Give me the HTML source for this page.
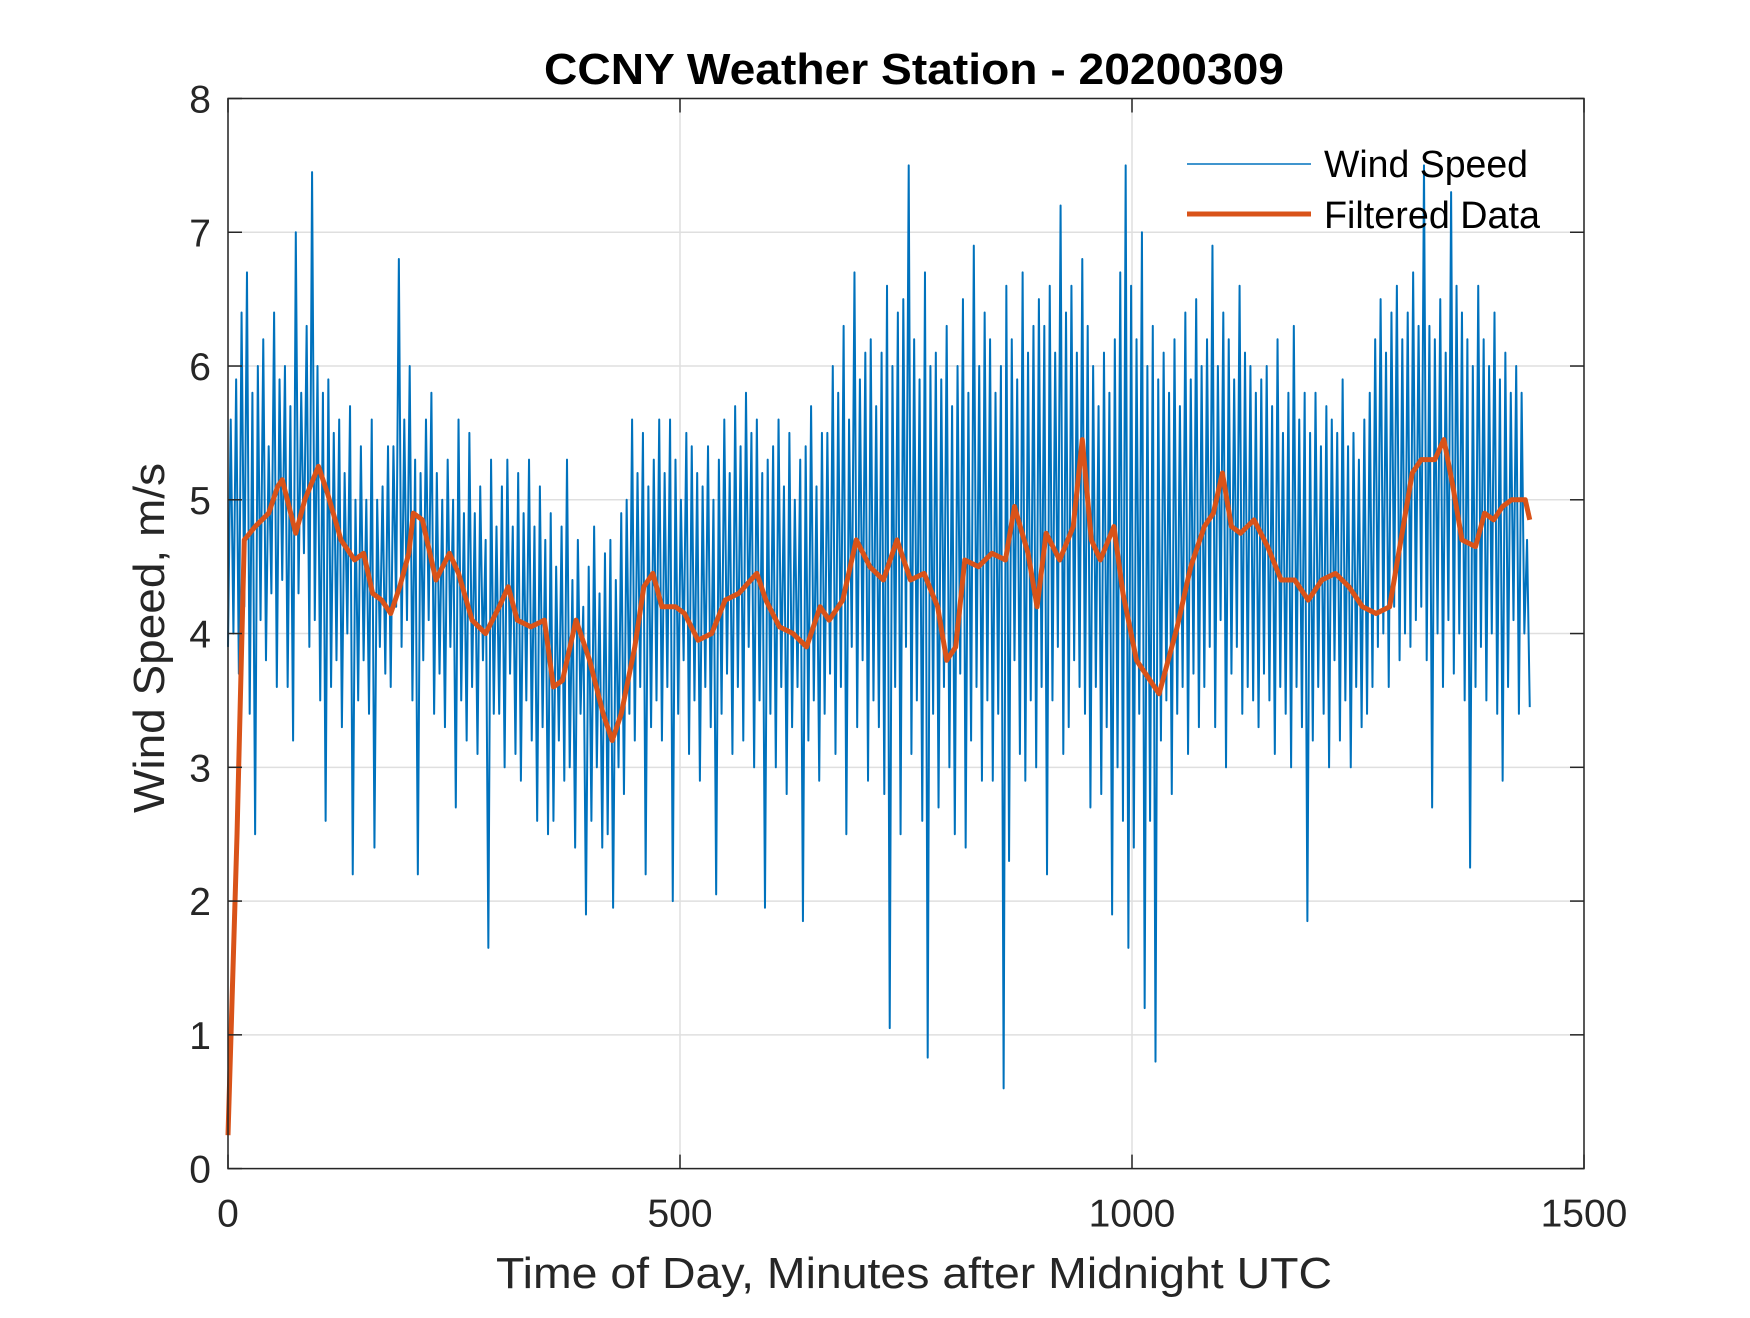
<!DOCTYPE html>
<html><head><meta charset="utf-8"><style>
html,body{margin:0;padding:0;background:#fff;}
svg text{font-family:"Liberation Sans",Arial,sans-serif;}
</style></head><body>
<svg id="chart" width="1750" height="1313" viewBox="0 0 1750 1313" xmlns="http://www.w3.org/2000/svg">
<rect width="1750" height="1313" fill="#fff"/>
<g id="grid"></g>
<g id="plot"></g>
<g id="axes"></g>
<text x="914" y="84" text-anchor="middle" font-size="44" font-weight="bold" fill="#000" textLength="740" lengthAdjust="spacingAndGlyphs">CCNY Weather Station - 20200309</text>
<text x="914" y="1288" text-anchor="middle" font-size="44" fill="#262626" textLength="836" lengthAdjust="spacingAndGlyphs">Time of Day, Minutes after Midnight UTC</text>
<text transform="translate(164,638) rotate(-90)" text-anchor="middle" font-size="44" fill="#262626" textLength="350" lengthAdjust="spacingAndGlyphs">Wind Speed, m/s</text>
<g>
<line x1="1187" y1="164" x2="1311" y2="164" stroke="#0072BD" stroke-width="1.5"/>
<text x="1324" y="177" font-size="38" fill="#000" textLength="204" lengthAdjust="spacingAndGlyphs">Wind Speed</text>
<line x1="1187" y1="214" x2="1311" y2="214" stroke="#D95319" stroke-width="5"/>
<text x="1324" y="228" font-size="38" fill="#000" textLength="216" lengthAdjust="spacingAndGlyphs">Filtered Data</text>
</g>
</svg>
<script>
const xTicks = [0, 500, 1000, 1500];
const yTicks = [0, 1, 2, 3, 4, 5, 6, 7, 8];
const rawStep = 3;
const rawValues = [
3.9,5.6,4.0,5.9,3.7,6.4,4.2,6.7,3.4,5.8,2.5,6.0,4.1,6.2,3.8,5.4,4.3,6.4,3.6,5.9,
4.4,6.0,3.6,5.7,3.2,7.0,4.3,5.8,4.6,6.3,3.9,7.45,4.1,6.0,3.5,5.8,2.6,5.9,3.6,5.5,
3.8,5.6,3.3,5.2,4.0,5.7,2.2,5.0,3.5,5.4,3.8,5.0,3.4,5.6,2.4,5.0,3.9,5.1,3.7,5.4,
3.6,5.4,4.2,6.8,3.9,5.6,4.1,6.0,3.5,5.3,2.2,5.2,3.8,5.6,4.1,5.8,3.4,5.2,3.7,5.0,
3.3,5.3,3.9,5.0,2.7,5.6,3.5,4.9,3.2,5.5,3.6,4.9,3.1,5.1,3.8,4.7,1.65,5.3,3.4,4.8,
3.4,5.1,3.0,5.3,3.7,4.8,3.1,5.2,2.9,4.9,3.5,5.3,3.2,4.8,2.6,5.1,3.3,4.7,2.5,4.9,
2.6,4.5,3.2,4.8,2.9,5.3,3.0,4.4,2.4,4.7,3.4,4.2,1.9,4.5,2.6,4.8,3.0,4.3,2.4,4.6,
2.5,4.7,1.95,4.4,3.0,4.9,2.8,5.0,3.4,5.6,3.2,5.2,3.6,5.5,2.2,5.1,3.3,5.3,3.5,5.6,
3.2,5.2,3.6,5.6,2.0,5.3,3.4,5.0,3.8,5.5,3.1,5.4,3.5,5.2,2.9,5.1,3.6,5.4,3.3,5.0,
2.05,5.3,3.4,5.6,3.7,5.2,3.1,5.7,3.6,5.4,3.2,5.8,3.9,5.5,3.0,5.6,3.5,5.2,1.95,5.3,
3.4,5.4,3.0,5.6,3.6,5.1,2.8,5.5,3.3,5.0,3.6,5.3,1.85,5.4,3.2,5.7,3.5,5.1,2.9,5.5,
3.4,5.5,3.7,6.0,3.1,5.8,3.6,6.3,2.5,5.6,3.9,6.7,3.3,5.9,3.8,6.1,2.9,6.2,3.5,5.7,
3.3,6.1,2.8,6.6,1.05,6.0,3.6,6.4,2.5,6.5,3.9,7.5,3.1,6.2,3.5,5.9,2.6,6.7,0.83,6.0,
3.4,6.1,2.7,5.9,3.6,6.3,3.0,5.7,2.5,6.0,3.7,6.5,2.4,5.8,3.2,6.9,3.6,6.0,2.9,6.4,
3.5,6.2,2.9,5.8,3.4,6.0,0.6,6.6,2.3,6.2,3.8,5.9,3.1,6.7,2.9,6.1,3.5,6.3,3.0,6.5,
3.6,6.3,2.2,6.6,3.5,6.1,3.9,7.2,3.1,6.4,3.3,6.6,3.8,6.1,3.6,6.8,3.4,6.3,2.7,6.0,
3.6,5.7,2.8,6.1,3.3,5.8,1.9,6.2,3.0,6.7,2.6,7.5,1.65,6.6,2.4,6.2,3.4,7.0,1.2,6.0,
2.6,6.3,0.8,5.9,3.2,6.1,3.5,5.8,2.8,6.2,3.4,5.7,3.6,6.4,3.1,5.9,3.7,6.5,3.3,6.0,
3.6,6.2,3.9,6.9,3.3,6.0,4.1,6.4,3.0,6.2,3.7,5.9,3.9,6.6,3.4,6.1,3.6,6.0,3.5,5.8,
3.3,5.9,3.7,6.0,3.5,5.7,3.1,6.2,3.6,5.5,3.4,5.8,3.0,6.3,3.6,5.6,3.3,5.8,1.85,5.5,
3.2,5.8,3.6,5.4,3.4,5.7,3.0,5.6,3.8,5.5,3.2,5.9,3.5,5.4,3.0,5.5,3.6,5.3,3.3,5.6,
3.4,5.8,3.6,6.2,3.9,6.5,4.0,6.1,3.6,6.4,4.2,6.6,3.8,6.2,4.0,6.4,3.9,6.7,4.1,6.3,
4.2,7.5,3.8,6.3,2.7,6.2,4.0,6.5,3.6,6.1,4.1,7.3,3.7,6.6,4.0,6.4,3.5,6.2,2.25,6.0,
3.6,6.6,3.9,6.2,3.5,6.0,4.0,6.4,3.4,5.9,2.9,6.1,3.6,5.8,4.1,6.0,3.4,5.8,4.0,4.7,
3.45
];
const filtX = [0,10,18,30,45,55,60,75,85,100,110,125,140,150,160,170,180,190,200,205,215,230,245,255,270,285,300,310,320,335,350,360,370,385,400,415,425,435,450,460,470,480,495,505,520,535,550,565,585,595,610,625,640,655,665,680,695,710,725,740,755,770,785,795,805,815,830,845,860,870,885,895,905,920,935,945,955,965,980,990,1005,1015,1030,1040,1050,1065,1080,1090,1100,1110,1120,1135,1150,1165,1180,1195,1210,1225,1240,1255,1270,1285,1300,1310,1320,1335,1345,1355,1365,1380,1390,1400,1410,1420,1435,1440];
const filtY = [0.25,2.5,4.7,4.8,4.9,5.1,5.15,4.75,5.0,5.25,5.05,4.7,4.55,4.6,4.3,4.25,4.15,4.35,4.6,4.9,4.85,4.4,4.6,4.45,4.1,4.0,4.2,4.35,4.1,4.05,4.1,3.6,3.65,4.1,3.8,3.4,3.2,3.4,3.9,4.35,4.45,4.2,4.2,4.15,3.95,4.0,4.25,4.3,4.45,4.25,4.05,4.0,3.9,4.2,4.1,4.25,4.7,4.5,4.4,4.7,4.4,4.45,4.2,3.8,3.9,4.55,4.5,4.6,4.55,4.95,4.6,4.2,4.75,4.55,4.8,5.45,4.7,4.55,4.8,4.3,3.8,3.7,3.55,3.8,4.05,4.5,4.8,4.9,5.2,4.8,4.75,4.85,4.65,4.4,4.4,4.25,4.4,4.45,4.35,4.2,4.15,4.2,4.8,5.2,5.3,5.3,5.45,5.1,4.7,4.65,4.9,4.85,4.95,5.0,5.0,4.85];

const L=228,R=1584,T=98.5,B=1168.6;
function xs(v){return L+(v-0)/(1500-0)*(R-L);}
function ys(v){return B-(v-0)/(8-0)*(B-T);}
const NS="http://www.w3.org/2000/svg";
function mk(tag,attrs,parent){const e=document.createElementNS(NS,tag);for(const k in attrs)e.setAttribute(k,attrs[k]);parent.appendChild(e);return e;}
const grid=document.getElementById('grid'),plot=document.getElementById('plot'),axes=document.getElementById('axes');

xTicks.forEach(t=>{
  const g=mk('line',{x1:xs(t),x2:xs(t),y1:T,y2:B,stroke:'#dfdfdf','stroke-width':1.5},grid);
  
  
});
yTicks.forEach(t=>{
  const g=mk('line',{x1:L,x2:R,y1:ys(t),y2:ys(t),stroke:'#dfdfdf','stroke-width':1.5},grid);
  
  
});

let d='';
rawValues.forEach((v,i)=>{d+=(i?'L':'M')+xs(i*rawStep).toFixed(2)+' '+ys(v).toFixed(2);});
const raw=mk('path',{d:d,fill:'none',stroke:'#0072BD','stroke-width':2,'stroke-linejoin':'round'},plot);



let d2='';
filtX.forEach((x,i)=>{d2+=(i?'L':'M')+xs(x).toFixed(2)+' '+ys(filtY[i]).toFixed(2);});
const filt=mk('path',{d:d2,fill:'none',stroke:'#D95319','stroke-width':5,'stroke-linejoin':'round'},plot);



const box=mk('rect',{x:L,y:T,width:R-L,height:B-T,fill:'none',stroke:'#262626','stroke-width':1.5},axes);


const tl=14;
xTicks.forEach(t=>{
  mk('line',{x1:xs(t),x2:xs(t),y1:B,y2:B-tl,stroke:'#262626','stroke-width':1.5},axes);
  mk('line',{x1:xs(t),x2:xs(t),y1:T,y2:T+tl,stroke:'#262626','stroke-width':1.5},axes);
  const lb=mk('text',{x:xs(t),y:B+58,'text-anchor':'middle','font-size':39,fill:'#262626'},axes);
  lb.textContent=t;
  
  
});
yTicks.forEach(t=>{
  mk('line',{x1:L,x2:L+tl,y1:ys(t),y2:ys(t),stroke:'#262626','stroke-width':1.5},axes);
  mk('line',{x1:R,x2:R-tl,y1:ys(t),y2:ys(t),stroke:'#262626','stroke-width':1.5},axes);
  const lb=mk('text',{x:L-17,y:ys(t)+14,'text-anchor':'end','font-size':39,fill:'#262626'},axes);
  lb.textContent=t;
  
  
});
</script>
</body></html>
